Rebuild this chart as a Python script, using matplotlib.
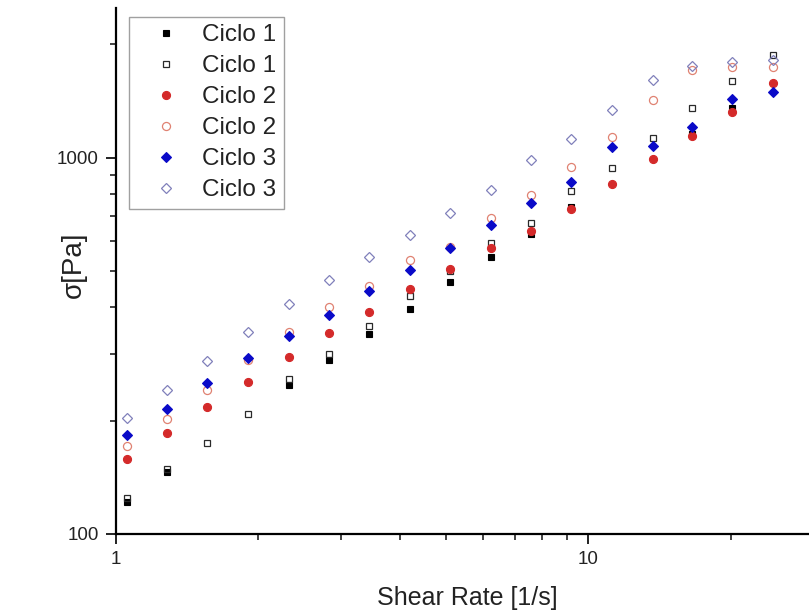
import numpy as np
import matplotlib
matplotlib.use("Agg")
import matplotlib.pyplot as plt
from matplotlib.ticker import LogLocator, NullFormatter, FixedLocator, FixedFormatter

plt.rcParams['font.family'] = ['Liberation Sans', 'DejaVu Sans']

# Shear rate steps [1/s]
shear_rate = [1.057, 1.288, 1.565, 1.906, 2.327, 2.828, 3.443, 4.195, 5.108,
              6.221, 7.577, 9.207, 11.21, 13.69, 16.59, 20.16, 24.61]

nan = np.nan
# Shear stress [Pa] for each cycle (filled = up curve, open = down curve)
ciclo1_up = [122, 146, nan, nan, 249, 290, 340, 396, 466, 544, 628, 738,
             nan, nan, 1158, 1358, nan]
ciclo1_down = [125, 149, 175, 209, 258, 300, 358, 428, 501, 595, 671, 815,
               938, 1130, 1358, 1596, 1879]
ciclo2_up = [158, 185, 217, 254, 296, 342, 390, 447, 507, 575, 637, 730,
             851, 992, 1144, 1325, 1580]
ciclo2_down = [171, 202, 242, 290, 345, 402, 455, 534, 580, 691, 797, 944,
               1134, 1422, 1714, 1741, 1744]
ciclo3_up = [183, 215, 252, 294, 335, 381, 443, 502, 577, 663, 756, 862,
             1070, 1076, 1205, 1433, 1495]
ciclo3_down = [203, 242, 289, 344, 408, 472, 546, 624, 713, 822, 985, 1121,
               1336, 1612, 1756, 1793, 1822]

labels = ["Ciclo 1", "Ciclo 1", "Ciclo 2", "Ciclo 2", "Ciclo 3", "Ciclo 3"]

fig = plt.figure(figsize=(8.09, 6.14), dpi=100)
ax = fig.add_axes([0.1428, 0.1303, 0.8572, 0.8567])

series = [
    (ciclo1_up, dict(marker='s', ms=5, mfc='black', mec='black', mew=0.8)),
    (ciclo1_down, dict(marker='s', ms=5, mfc='none', mec='#2a2a2a', mew=0.9)),
    (ciclo2_up, dict(marker='o', ms=5.8, mfc='#d42a2a', mec='#d42a2a', mew=0.8)),
    (ciclo2_down, dict(marker='o', ms=5.8, mfc='none', mec='#e08272', mew=0.9)),
    (ciclo3_up, dict(marker='D', ms=5.2, mfc='#0a0ac8', mec='#0a0ac8', mew=0.8)),
    (ciclo3_down, dict(marker='D', ms=5.2, mfc='none', mec='#8080bb', mew=0.9)),
]
for (vals, style), lab in zip(series, labels):
    ax.plot(shear_rate, vals, linestyle='none', label=lab, **style)

ax.set_xscale('log')
ax.set_yscale('log')
ax.set_xlim(1.0, 29.3)
ax.set_ylim(100, 2500)

for side in ('top', 'right'):
    ax.spines[side].set_visible(False)
for side in ('left', 'bottom'):
    ax.spines[side].set_linewidth(1.6)

ax.xaxis.set_major_locator(FixedLocator([1, 10]))
ax.xaxis.set_major_formatter(FixedFormatter(["1", "10"]))
ax.yaxis.set_major_locator(FixedLocator([100, 1000]))
ax.yaxis.set_major_formatter(FixedFormatter(["100", "1000"]))
ax.xaxis.set_minor_locator(LogLocator(base=10, subs=np.arange(2, 10)))
ax.yaxis.set_minor_locator(LogLocator(base=10, subs=np.arange(2, 10)))
ax.xaxis.set_minor_formatter(NullFormatter())
ax.yaxis.set_minor_formatter(NullFormatter())

ax.tick_params(which='major', direction='out', length=7, width=1.4,
               labelsize=13.5, pad=5, colors='#222222')
ax.tick_params(which='minor', direction='out', length=4, width=1.2,
               colors='#222222')

ax.set_xlabel("Shear Rate [1/s]", fontsize=18, color='#222222')
ax.xaxis.set_label_coords(0.507, -0.099)
ax.set_ylabel("σ[Pa]", fontsize=20, color='#222222')
ax.yaxis.set_label_coords(-0.042, 0.511)

leg = ax.legend(loc='upper left', bbox_to_anchor=(0.0195, 0.983), fontsize=17.5,
                frameon=True, fancybox=False, edgecolor='#888888',
                handlelength=2.45, handletextpad=0.26, labelspacing=0.37,
                borderpad=0.30, borderaxespad=0.0, markerscale=1.0)
leg.get_frame().set_linewidth(1.0)
for t in leg.get_texts():
    t.set_color('#222222')

fig.savefig("out.png", dpi=100)
